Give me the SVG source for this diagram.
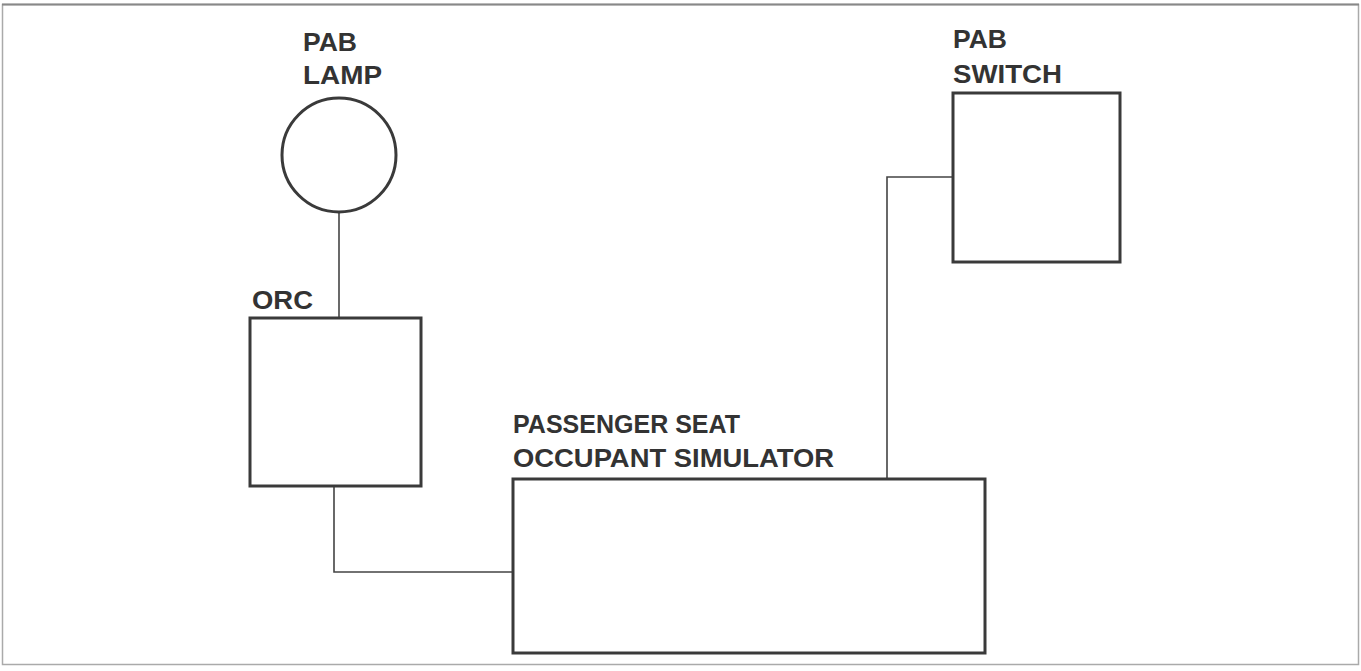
<svg xmlns="http://www.w3.org/2000/svg" width="1361" height="671" viewBox="0 0 1361 671">
<style>
.node{fill:none;stroke:#3a3a3a;stroke-width:3}
.wire{fill:none;stroke:#444;stroke-width:1.6}
.lbl{font-family:"Liberation Sans",Arial,sans-serif;font-weight:bold;font-size:26px;fill:#333}
</style>
<rect x="0" y="0" width="1361" height="671" fill="#fff"/>
<rect x="2.5" y="4.5" width="1356" height="660" fill="none" stroke="#aaa" stroke-width="1.5"/>
<line x1="2" y1="4.5" x2="1359" y2="4.5" stroke="#888" stroke-width="2"/>
<g id="connectors">
<line class="wire" x1="339" y1="212" x2="339" y2="318"/>
<polyline class="wire" points="334,486 334,572 513,572"/>
<polyline class="wire" points="953,177 887,177 887,479"/>
</g>
<g id="pab-lamp">
<circle class="node" cx="339" cy="155" r="57"/>
<text class="lbl" x="303" y="51" textLength="54" lengthAdjust="spacingAndGlyphs">PAB</text>
<text class="lbl" x="303" y="84" textLength="79" lengthAdjust="spacingAndGlyphs">LAMP</text>
</g>
<g id="orc">
<rect class="node" x="250" y="318" width="171" height="168"/>
<text class="lbl" x="252" y="309" textLength="61" lengthAdjust="spacingAndGlyphs">ORC</text>
</g>
<g id="pab-switch">
<rect class="node" x="953" y="93" width="167" height="169"/>
<text class="lbl" x="953" y="48" textLength="54" lengthAdjust="spacingAndGlyphs">PAB</text>
<text class="lbl" x="953" y="83" textLength="109" lengthAdjust="spacingAndGlyphs">SWITCH</text>
</g>
<g id="simulator">
<rect class="node" x="513" y="479" width="472" height="174"/>
<text class="lbl" x="513" y="433" textLength="227" lengthAdjust="spacingAndGlyphs">PASSENGER SEAT</text>
<text class="lbl" x="513" y="467" textLength="321" lengthAdjust="spacingAndGlyphs">OCCUPANT SIMULATOR</text>
</g>
</svg>
